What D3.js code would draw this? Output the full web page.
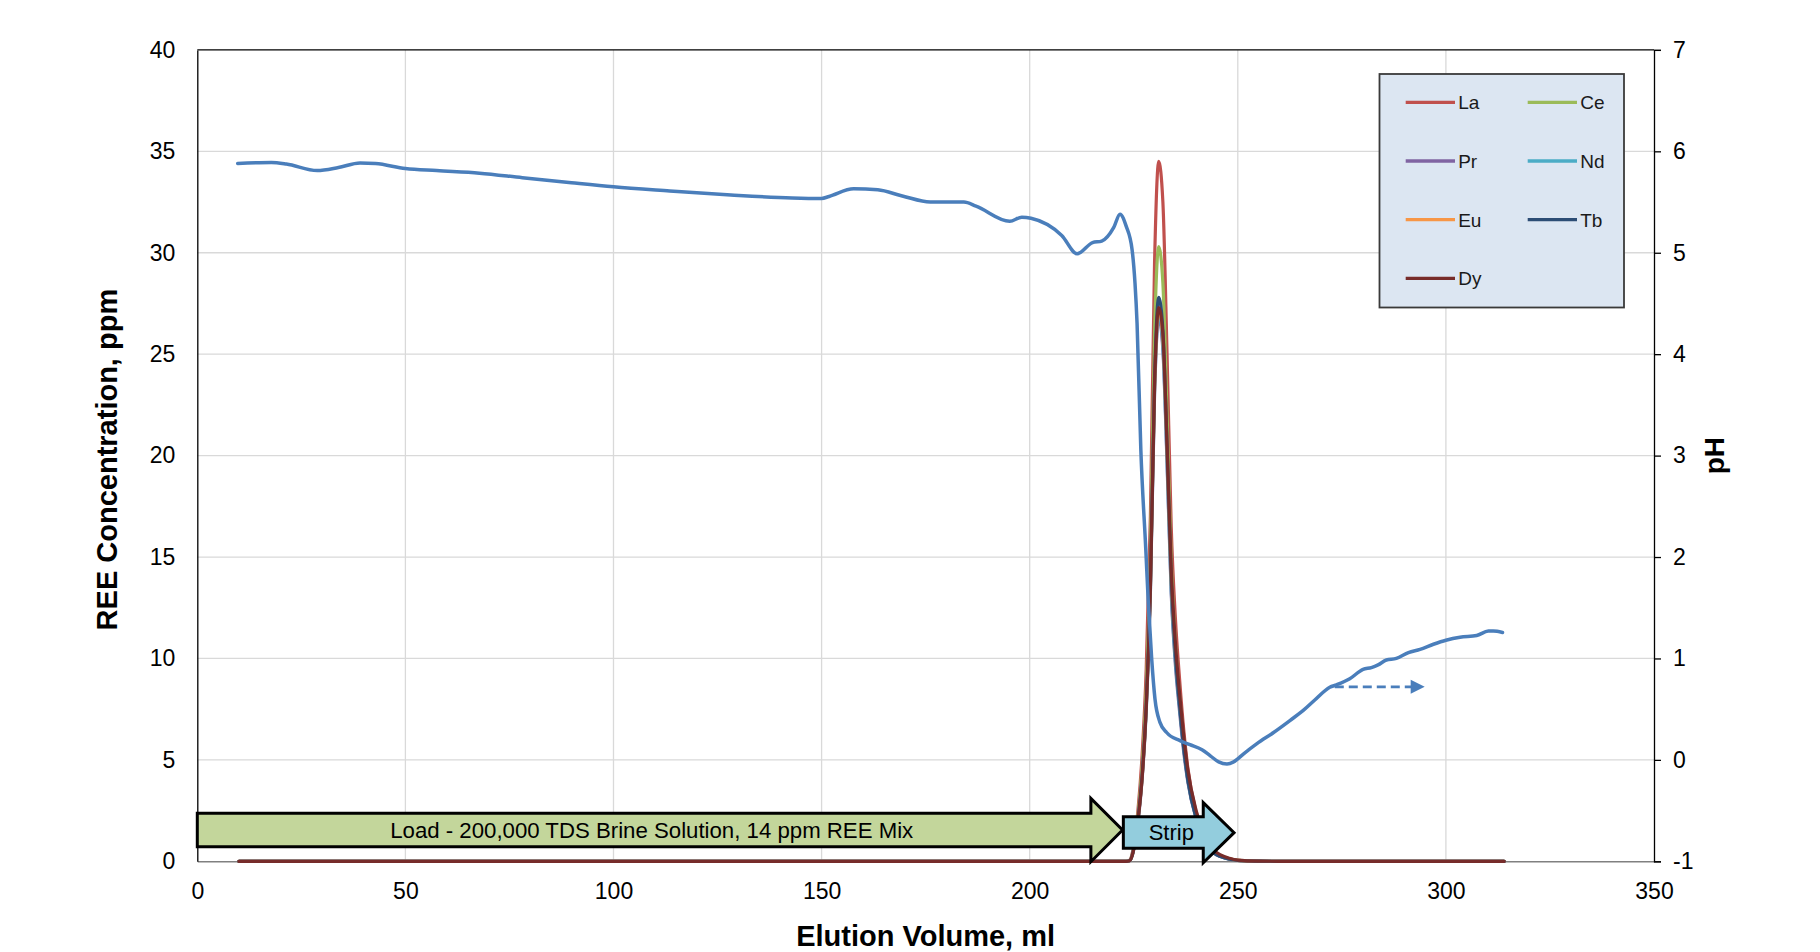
<!DOCTYPE html>
<html><head><meta charset="utf-8">
<script src="https://cdn.jsdelivr.net/npm/d3@7"></script>
<style>
body{margin:0;background:#fff}
svg{display:block}
text{font-family:"Liberation Sans",Arial,sans-serif}
</style>
</head><body>
<svg id="chart" width="1820" height="952"></svg>
<script>
// ---------------- DATA ----------------
const elutionVolume = [10, 50, 100, 150, 200, 220, 223, 224, 225, 226, 227, 228, 229, 230, 231, 232, 233, 234, 235, 236, 237, 238, 240, 242, 244, 246, 248, 250, 255, 260, 280, 300, 314];
const La = [0,0,0,0,0,0,0, 0.05,0.8,2.5,5.2,9.5,17,29.5,34.5,32.5,25,16.5,12,9,6.5,4.6, 2.4,1.2,0.5,0.25,0.12,0.05,0.01, 0,0,0,0];
const Ce = [0,0,0,0,0,0,0, 0.04,0.7,2.2,4.6,8.4,15,26,30.3,28.5,22,14.8,10.8,8.2,6,4.3, 2.3,1.15,0.5,0.25,0.12,0.05,0.01, 0,0,0,0];
const Pr = [0,0,0,0,0,0,0, 0.03,0.6,1.9,4.0,7.4,13.2,23,26.8,25.2,19.6,13.2,9.7,7.4,5.4,3.9, 2.1,1.05,0.45,0.22,0.1,0.04,0.01, 0,0,0,0];
const Nd = [0,0,0,0,0,0,0, 0.03,0.6,2.0,4.1,7.5,13.3,23.2,27.0,25.4,19.8,13.4,9.9,7.6,5.6,4.0, 2.15,1.1,0.47,0.23,0.1,0.04,0.01, 0,0,0,0];
const Eu = [0,0,0,0,0,0,0, 0.03,0.6,2.0,4.1,7.6,13.5,23.4,27.2,25.8,20.3,13.9,10.3,7.9,5.8,4.2, 2.25,1.15,0.5,0.25,0.12,0.05,0.01, 0,0,0,0];
const Tb = [0,0,0,0,0,0,0, 0.03,0.6,2.0,4.2,7.7,13.7,23.8,27.8,26.2,20.5,14,10.2,7.7,5.6,4.0, 2.1,1.05,0.45,0.22,0.1,0.04,0.01, 0,0,0,0];
const Dy = [0,0,0,0,0,0,0, 0.03,0.6,2.0,4.1,7.6,13.5,23.5,27.3,26.0,20.6,14.4,10.8,8.3,6.2,4.5, 2.5,1.3,0.6,0.3,0.15,0.06,0.01, 0,0,0,0];

const phVolume = [9.7, 17.8, 21.4, 28.8, 33.9, 39.1, 42.8, 50, 57.5, 67.8, 78.1, 89.9, 100, 113.5, 128.2, 142.9, 150, 151.8, 157.7, 163.5, 169.4, 176.1, 184.2, 187.1, 195.2, 198.1, 200.3, 207.7, 211.4, 215.1, 217.3, 220.2, 221.7, 223.2, 224.6, 225.3, 225.8, 226.7, 227.9, 228.5, 229.3, 230.1, 231.3, 232.9, 236.1, 238.5, 241.4, 243.4, 245.4, 247.4, 249.0, 251.4, 254.6, 258.6, 262.6, 265.8, 268.5, 272.1, 273.7, 276.9, 280.1, 282.1, 283.7, 285.7, 288.1, 291.0, 293.8, 297.0, 300.0, 303.4, 307.4, 310.2, 311.4, 313.6];
const phValues = [5.88, 5.89, 5.875, 5.81, 5.84, 5.885, 5.88, 5.83, 5.81, 5.785, 5.74, 5.69, 5.65, 5.61, 5.57, 5.54, 5.535, 5.555, 5.63, 5.62, 5.56, 5.50, 5.50, 5.46, 5.31, 5.35, 5.34, 5.17, 4.99, 5.10, 5.115, 5.25, 5.38, 5.26, 5.03, 4.70, 4.30, 3.06, 2.07, 1.55, 1.0, 0.6, 0.37, 0.27, 0.19, 0.15, 0.10, 0.04, -0.02, -0.04, -0.02, 0.06, 0.16, 0.27, 0.39, 0.49, 0.59, 0.716, 0.74, 0.80, 0.893, 0.91, 0.936, 0.985, 1.0, 1.058, 1.09, 1.14, 1.18, 1.21, 1.226, 1.27, 1.27, 1.256];

const xTicks = [0, 50, 100, 150, 200, 250, 300, 350];
const yTicks = [0, 5, 10, 15, 20, 25, 30, 35, 40];
const phTicks = [-1, 0, 1, 2, 3, 4, 5, 6, 7];

const seriesNames = ["La", "Ce", "Pr", "Nd", "Eu", "Tb", "Dy"];
const seriesValues = [La, Ce, Pr, Nd, Eu, Tb, Dy];

const xTitle = "Elution Volume, ml";
const yTitle = "REE Concentration, ppm";
const y2Title = "pH";
const loadLabel = "Load - 200,000 TDS Brine Solution, 14 ppm REE Mix";
const stripLabel = "Strip";

// arrow annotations in data units: [bodyStart, headBase, tip] (ml), [bodyTop, bodyBottom, headTop, headBottom] (ppm)
const loadArrowX = [0, 214.7, 222.3];
const loadArrowY = [2.37, 0.72, 3.1, -0.02];
const stripArrowX = [222.5, 241.7, 249.1];
const stripArrowY = [2.2, 0.64, 2.89, -0.07];
const phArrowX = [273.3, 294.9];
const phArrowY = 0.72;

// ---------------- STYLE ----------------
const colors = {La:"#C0504D", Ce:"#9BBB59", Pr:"#8064A2", Nd:"#4BACC6", Eu:"#F79646", Tb:"#2C4D75", Dy:"#772C2A"};
const phColor = "#4A7EBB";

const W = 1820, H = 952;
const m = {left:197.3, right:W-1654, top:49.9, bottom:H-861.3};

const svg = d3.select("#chart");
svg.append("rect").attr("width", W).attr("height", H).attr("fill", "#fff");

const x = d3.scaleLinear().domain([0, 350]).range([m.left, W - m.right]);
const y = d3.scaleLinear().domain([0, 40]).range([H - m.bottom, m.top]);
const y2 = d3.scaleLinear().domain([-1, 7]).range([H - m.bottom, m.top]);

// gridlines
const grid = svg.append("g");
grid.selectAll(".hg").data(yTicks.filter(d => d > 0 && d < 40)).enter().append("line")
  .attr("x1", x(0)).attr("x2", x(350)).attr("y1", d => y(d)).attr("y2", d => y(d))
  .attr("stroke", "#D9D9D9").attr("stroke-width", 1.3);
grid.selectAll(".vg").data(xTicks.filter(d => d > 0 && d < 350)).enter().append("line")
  .attr("y1", y(0)).attr("y2", y(40)).attr("x1", d => x(d)).attr("x2", d => x(d))
  .attr("stroke", "#D9D9D9").attr("stroke-width", 1.3);

// plot border (top)
svg.append("line").attr("x1", x(0)).attr("x2", x(350)).attr("y1", y(40)).attr("y2", y(40))
  .attr("stroke", "#000").attr("stroke-width", 1.3);

// axes
const fs = 23;
const xAxis = d3.axisBottom(x).tickValues(xTicks).tickSize(0).tickPadding(21);
const gx = svg.append("g").attr("transform", `translate(0,${y(0)})`).call(xAxis);
gx.select(".domain").attr("stroke", "#808080").attr("stroke-width", 1.5);
gx.selectAll("text").attr("font-size", fs).attr("fill", "#000").attr("font-family", "Liberation Sans, Arial, sans-serif");

const yAxis = d3.axisLeft(y).tickValues(yTicks).tickSize(0).tickPadding(22);
const gy = svg.append("g").attr("transform", `translate(${x(0)},0)`).call(yAxis);
gy.select(".domain").attr("stroke", "#000").attr("stroke-width", 1.3);
gy.selectAll("text").attr("font-size", fs).attr("fill", "#000").attr("font-family", "Liberation Sans, Arial, sans-serif");

const y2Axis = d3.axisRight(y2).tickValues(phTicks).tickSize(7).tickPadding(12).tickFormat(d3.format("d"));
const gy2 = svg.append("g").attr("transform", `translate(${x(350)},0)`).call(y2Axis);
gy2.select(".domain").attr("stroke", "#000").attr("stroke-width", 1.3);
gy2.selectAll(".tick line").attr("stroke", "#000").attr("stroke-width", 1.3);
gy2.selectAll("text").attr("font-size", fs).attr("fill", "#000").attr("font-family", "Liberation Sans, Arial, sans-serif")
  .text(d => d < 0 ? "-" + Math.abs(d) : d);

// REE series
const line = d3.line().x((d, i) => x(elutionVolume[i])).y(d => y(d)).curve(d3.curveMonotoneX);
const seriesG = svg.append("g");
seriesNames.forEach((name, k) => {
  seriesG.append("path").datum(seriesValues[k]).attr("d", line)
    .attr("fill", "none").attr("stroke", colors[name]).attr("stroke-width", 3.2)
    .attr("stroke-linejoin", "round").attr("stroke-linecap", "round");
});

// pH series
const phLine = d3.line().x((d, i) => x(phVolume[i])).y(d => y2(d)).curve(d3.curveMonotoneX);
svg.append("path").datum(phValues).attr("d", phLine)
  .attr("fill", "none").attr("stroke", phColor).attr("stroke-width", 3.5)
  .attr("stroke-linejoin", "round").attr("stroke-linecap", "round");

// dashed arrow pointing to pH axis
const ay = y2(phArrowY);
const tipX = x(phArrowX[1]);
svg.append("line").attr("x1", x(phArrowX[0])).attr("x2", tipX - 12).attr("y1", ay).attr("y2", ay)
  .attr("stroke", phColor).attr("stroke-width", 2.6).attr("stroke-dasharray", "9,5");
svg.append("path").attr("d", `M${tipX},${ay} L${tipX - 14},${ay - 7} L${tipX - 14},${ay + 7} Z`).attr("fill", phColor);

// block arrows
function blockArrow(ax, ayv) {
  const [x0, xb, xt] = ax.map(x);
  const [bt, bb, ht, hb] = ayv.map(y);
  const tipY = (ht + hb) / 2;
  return `M${x0},${bt} L${xb},${bt} L${xb},${ht} L${xt},${tipY} L${xb},${hb} L${xb},${bb} L${x0},${bb} Z`;
}
svg.append("path").attr("d", blockArrow(loadArrowX, loadArrowY))
  .attr("fill", "#C3D69B").attr("stroke", "#000").attr("stroke-width", 3).attr("stroke-linejoin", "miter");
svg.append("path").attr("d", blockArrow(stripArrowX, stripArrowY))
  .attr("fill", "#93CDDD").attr("stroke", "#000").attr("stroke-width", 3).attr("stroke-linejoin", "miter");

svg.append("text").attr("x", 651.7).attr("y", (y(loadArrowY[0]) + y(loadArrowY[1])) / 2 + 8)
  .attr("text-anchor", "middle").attr("font-size", 22).attr("fill", "#000")
  .attr("textLength", 523).attr("lengthAdjust", "spacingAndGlyphs").text(loadLabel);
svg.append("text").attr("x", (x(stripArrowX[0]) + x(stripArrowX[1])) / 2 + 8).attr("y", (y(stripArrowY[0]) + y(stripArrowY[1])) / 2 + 8)
  .attr("text-anchor", "middle").attr("font-size", 22).attr("fill", "#000").text(stripLabel);

// axis titles
svg.append("text").attr("x", (x(0) + x(350)) / 2).attr("y", 946)
  .attr("text-anchor", "middle").attr("font-size", 29).attr("font-weight", "bold").attr("fill", "#000").text(xTitle);
svg.append("text").attr("transform", `translate(117,${(y(0) + y(40)) / 2 + 4}) rotate(-90)`)
  .attr("text-anchor", "middle").attr("font-size", 29).attr("font-weight", "bold").attr("fill", "#000").text(yTitle);
svg.append("text").attr("transform", `translate(1724,${(y(0) + y(40)) / 2}) rotate(-90)`)
  .attr("text-anchor", "middle").attr("font-size", 28).attr("font-weight", "bold").attr("fill", "#000").text(y2Title);

// legend
const lg = svg.append("g");
lg.append("rect").attr("x", 1379.5).attr("y", 74).attr("width", 244.5).attr("height", 233.5)
  .attr("fill", "#DCE6F2").attr("stroke", "#3a3a3a").attr("stroke-width", 1.8);
const rowY = [102.3, 161, 219.7, 278.3];
const colX = [1405.7, 1527.7];
seriesNames.forEach((name, k) => {
  const cx = colX[k % 2], cy = rowY[Math.floor(k / 2)];
  lg.append("line").attr("x1", cx).attr("x2", cx + 49.3).attr("y1", cy).attr("y2", cy)
    .attr("stroke", colors[name]).attr("stroke-width", 3.3);
  lg.append("text").attr("x", cx + 52.5).attr("y", cy + 7).attr("font-size", 19).attr("fill", "#1a1a1a").text(name);
});
</script>
</body></html>
